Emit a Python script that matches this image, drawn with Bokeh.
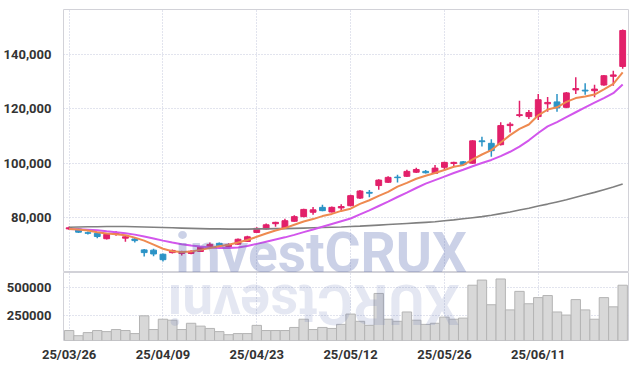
import math
from bokeh.plotting import figure
from bokeh.layouts import column
from bokeh.models import ColumnDataSource, FixedTicker, NumeralTickFormatter, Range1d
from bokeh.embed import file_html
from bokeh.resources import INLINE
from bokeh.core.properties import value

dates = ["25/03/26", "25/03/27", "25/03/28", "25/03/31", "25/04/01", "25/04/02", "25/04/03", "25/04/04",
         "25/04/07", "25/04/08", "25/04/09", "25/04/10", "25/04/11", "25/04/14", "25/04/15", "25/04/16",
         "25/04/17", "25/04/18", "25/04/21", "25/04/22", "25/04/23", "25/04/24", "25/04/25", "25/04/28",
         "25/04/29", "25/04/30", "25/05/02", "25/05/07", "25/05/08", "25/05/09", "25/05/12", "25/05/13",
         "25/05/14", "25/05/15", "25/05/16", "25/05/19", "25/05/20", "25/05/21", "25/05/22", "25/05/23",
         "25/05/26", "25/05/27", "25/05/28", "25/05/29", "25/05/30", "25/06/02", "25/06/04", "25/06/05",
         "25/06/09", "25/06/10", "25/06/11", "25/06/12", "25/06/13", "25/06/16", "25/06/17", "25/06/18",
         "25/06/19", "25/06/20", "25/06/23", "25/06/24"]

opens = [76000, 76000, 74600, 74400, 72400, 74000, 72600, 72300, 68300, 68200,
         66700, 67300, 67000, 67000, 67700, 69200, 70700, 69500, 70400, 71400,
         74700, 76000, 77900, 76300, 78800, 80500, 82100, 83900, 82200, 83700,
         84500, 87300, 89400, 91900, 93100, 95000, 95300, 96800, 97100, 96400,
         98600, 100000, 100600, 100100, 108300, 107400, 106900, 113900, 117600, 117200,
         117200, 121900, 122600, 120600, 127000, 126900, 126700, 128800, 132000, 135600]
closes = [76400, 74800, 74400, 73200, 74000, 74500, 73100, 71700, 67300, 66800,
          64700, 68100, 67300, 67800, 69500, 70300, 69800, 70300, 72200, 73100,
          76200, 77500, 78400, 79000, 80500, 83150, 83000, 82700, 83900, 84200,
          88200, 89900, 89100, 93900, 94900, 94800, 97100, 97800, 96600, 98300,
          100400, 100400, 99600, 108300, 108000, 104700, 113900, 114400, 117900, 118700,
          123400, 122400, 120400, 125900, 127500, 126600, 127300, 132200, 132500, 148800]
highs = [76900, 76300, 75000, 74700, 74300, 75200, 73600, 73000, 68600, 68700,
         67000, 68400, 68000, 68200, 69700, 71000, 71000, 70700, 72500, 73500,
         76600, 78000, 78600, 79700, 81000, 83400, 84000, 84900, 84200, 85000,
         88500, 90300, 90300, 94200, 95300, 95900, 97700, 98400, 97600, 99400,
         100600, 100600, 100900, 108500, 109800, 108900, 115100, 115100, 123000, 119600,
         125500, 124400, 125500, 126200, 131600, 129400, 128900, 132500, 134000, 149200]
lows = [75600, 74500, 73900, 72600, 72100, 73500, 71300, 71000, 65900, 66000,
        64000, 67000, 66200, 66700, 67500, 69000, 69500, 69300, 70200, 71200,
        74500, 75800, 76800, 76100, 78600, 80300, 81200, 82500, 82000, 82500,
        84300, 87000, 87600, 90400, 92800, 93000, 95000, 96500, 96300, 96200,
        97300, 98700, 99300, 99800, 106200, 102500, 106600, 111400, 117000, 116300,
        116000, 119000, 119000, 120300, 125500, 125200, 124300, 128500, 128500, 134800]

ma5 = [76000, 75800, 75400, 74800, 74300, 74000, 73700, 72800, 71700, 70200,
       68700, 67800, 67500, 67700, 68300, 69000, 69600, 70200, 71000, 71900,
       73100, 74300, 75400, 76300, 77500, 78700, 79600, 80700, 81500, 82600,
       83400, 85200, 86500, 88100, 89600, 91500, 92900, 94400, 95500, 96500,
       97600, 98800, 99400, 101500, 103300, 104900, 107700, 110400, 112700, 114300,
       117700, 119800, 120600, 122600, 124000, 124600, 125300, 127200, 129200, 133400]
ma20 = [76000, 75900, 75700, 75500, 75100, 74800, 74400, 73900, 73200, 72500,
        71700, 71000, 70400, 69900, 69500, 69200, 69000, 69000, 69200, 69700,
        70500, 71300, 72100, 72900, 73800, 74800, 75800, 76800, 77800, 78800,
        79800, 81300, 82800, 84400, 86000, 87700, 89300, 91000, 92600, 93900,
        95200, 96500, 97700, 99000, 100200, 101300, 102700, 104300, 106200, 108500,
        111200, 113600, 115200, 117000, 118800, 120600, 122300, 124000, 125800, 129000]
ma60 = [76600, 76700, 76800, 76800, 76900, 76900, 76900, 76800, 76700, 76600,
        76500, 76400, 76300, 76200, 76100, 76000, 76000, 75900, 75900, 75900,
        76000, 76000, 76100, 76100, 76200, 76300, 76400, 76500, 76600, 76700,
        76900, 77000, 77200, 77400, 77600, 77800, 78000, 78200, 78400, 78600,
        79000, 79300, 79700, 80100, 80500, 81000, 81600, 82200, 82900, 83600,
        84400, 85100, 85900, 86700, 87600, 88500, 89400, 90400, 91400, 92500]

volumes = [110000, 63000, 91000, 110000, 100000, 119000, 110000, 82000, 244000, 119000,
           213000, 204000, 119000, 176000, 150000, 129000, 100000, 72000, 82000, 82000,
           157000, 110000, 110000, 110000, 138000, 213000, 119000, 138000, 129000, 166000,
           260000, 194000, 157000, 448000, 213000, 194000, 279000, 204000, 166000, 176000,
           232000, 213000, 223000, 523000, 570000, 345000, 580000, 298000, 467000, 354000,
           410000, 429000, 279000, 251000, 392000, 298000, 213000, 410000, 326000, 523000]

price_ticks = [80000, 100000, 120000, 140000]
volume_ticks = [250000, 500000]
date_tick_idx = [0, 10, 20, 30, 40, 50]
watermark = "investCRUX"

UP = "#E2206A"
DOWN = "#2B93C6"
LABEL_FONT = "Roboto"
GRID = "#C5C9DD"
FRAME = "#D2D2D8"
WM = "#5468B0"

xs = list(range(len(dates)))
colors = [UP if c >= o else DOWN for o, c in zip(opens, closes)]
src = ColumnDataSource(dict(
    x=xs, open=opens, close=closes, high=highs, low=lows,
    top=[max(o, c) for o, c in zip(opens, closes)],
    bottom=[min(o, c) for o, c in zip(opens, closes)],
    color=colors, ma5=ma5, ma20=ma20, ma60=ma60, vol=volumes,
))

x_range = Range1d(-0.6, 59.62)


def style_axis(ax):
    ax.axis_line_color = None
    ax.major_tick_line_color = None
    ax.minor_tick_line_color = None
    ax.major_label_text_font = LABEL_FONT
    ax.major_label_text_font_size = "13px"
    ax.major_label_text_font_style = "bold"
    ax.major_label_text_color = "#333333"


def style_grid(g):
    g.grid_line_color = GRID
    g.grid_line_dash = "1 2"
    g.grid_line_width = 1


p = figure(width=634, height=272, output_backend="svg", toolbar_location=None,
           x_range=x_range, y_range=Range1d(60000, 156500),
           min_border_left=60, min_border_right=6, min_border_top=9, min_border_bottom=0)
p.outline_line_color = FRAME
p.xaxis.visible = False
p.yaxis.ticker = FixedTicker(ticks=price_ticks)
p.yaxis.formatter = NumeralTickFormatter(format="0,0")
style_axis(p.yaxis)
p.yaxis.major_label_standoff = 6
p.ygrid.ticker = FixedTicker(ticks=price_ticks)
p.xgrid.ticker = FixedTicker(ticks=date_tick_idx)
style_grid(p.xgrid)
style_grid(p.ygrid)

p.segment(x0="x", x1="x", y0="low", y1="high", color="color", line_width=1.5, source=src)
p.vbar(x="x", width=0.62, top="top", bottom="bottom", fill_color="color",
       line_color="color", source=src)

p.line("x", "ma60", source=src, color="#808080", line_width=1.6)
p.line("x", "ma20", source=src, color="#D256EC", line_width=2)
p.line("x", "ma5", source=src, color="#EE8A50", line_width=2)

# watermark (semi-transparent overlay)
p.text(x=[11.3], y=[67300], text=[watermark], text_font=value("Roboto"),
       text_font_style="bold", text_font_size="55px", text_color=WM,
       text_alpha=0.3, text_baseline="middle", text_align="left")

v = figure(width=634, height=92, output_backend="svg", toolbar_location=None,
           x_range=x_range, y_range=Range1d(19000, 639000),
           min_border_left=60, min_border_right=6, min_border_top=0, min_border_bottom=24)
v.outline_line_color = FRAME
v.yaxis.ticker = FixedTicker(ticks=volume_ticks)
v.yaxis.formatter = NumeralTickFormatter(format="0")
v.xaxis.ticker = FixedTicker(ticks=date_tick_idx)
v.xaxis.major_label_overrides = {i: dates[i] for i in date_tick_idx}
style_axis(v.xaxis)
style_axis(v.yaxis)
v.yaxis.major_label_standoff = 6
v.xaxis.major_label_standoff = 0
v.ygrid.ticker = FixedTicker(ticks=volume_ticks)
v.xgrid.ticker = FixedTicker(ticks=date_tick_idx)
style_grid(v.xgrid)
style_grid(v.ygrid)

v.vbar(x="x", width=1.0, top="vol", bottom=0, fill_color="#D8D8D8",
       line_color="#B4B4B4", line_width=1, source=src)

# mirrored watermark (reflection)
v.text(x=[41.6], y=[350000], text=[watermark[::-1]], angle=math.pi, text_font=value("Roboto"),
       text_font_style="bold", text_font_size="55px", text_color=WM,
       text_alpha=0.16, text_baseline="middle", text_align="left")

layout = column(p, v, spacing=0)
open("out.html", "w").write(file_html(layout, INLINE))
